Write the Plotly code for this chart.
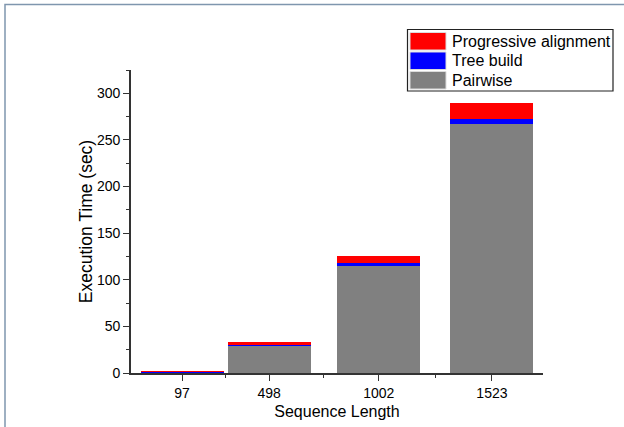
import plotly.graph_objects as go

# Execution time breakdown per sequence length (seconds)
seq_lengths = [97, 498, 1002, 1523]
pairwise = [0.3, 29.0, 115.3, 267.4]
tree_build = [0.8, 1.1, 2.2, 4.7]
progressive = [0.1, 3.0, 8.5, 17.5]

series_names = ["Pairwise", "Tree build", "Progressive alignment"]
series_values = [pairwise, tree_build, progressive]
series_colors = ["#808080", "#0000FF", "#FF0000"]

y_ticks = [0, 50, 100, 150, 200, 250, 300]
x_minor = [(a + b) / 2 for a, b in zip(seq_lengths[:-1], seq_lengths[1:])]

W, H = 624, 427
ML, MR, MT, MB = 131, 81, 70, 54
PW, PH = W - ML - MR, H - MT - MB
FONT = "Liberation Sans, Arial, sans-serif"


def px_x(px):
    return (px - ML) / PW


def px_y(py):
    return (H - MB - py) / PH


fig = go.Figure()
for name, vals, col in zip(series_names, series_values, series_colors):
    fig.add_trace(go.Bar(
        x=seq_lengths, y=vals, name=name, width=382,
        marker=dict(color=col, line=dict(width=0)),
        showlegend=False,
    ))

axis_common = dict(
    showline=True, linecolor="#333333", linewidth=1.6,
    ticks="outside", ticklen=6, tickwidth=1.4, tickcolor="#333333",
    showgrid=False, zeroline=False, automargin=False,
    tickfont=dict(family=FONT, size=14, color="black"),
)

fig.update_layout(
    width=W, height=H,
    margin=dict(l=ML, r=MR, t=MT, b=MB),
    paper_bgcolor="white", plot_bgcolor="white",
    barmode="stack", bargap=0,
    xaxis=dict(
        range=[-138, 1758], tickmode="array", tickvals=seq_lengths,
        ticktext=[str(v) for v in seq_lengths],
        minor=dict(tickmode="array", tickvals=x_minor, ticks="outside",
                   ticklen=3, tickwidth=1.2, tickcolor="#333333"),
        title=dict(text="Sequence Length", standoff=6,
                   font=dict(family=FONT, size=16, color="black")),
        **axis_common,
    ),
    yaxis=dict(
        range=[0, 325], tickmode="array", tickvals=y_ticks,
        minor=dict(tickmode="array", tickvals=[25, 75, 125, 175, 225, 275, 325],
                   ticks="outside", ticklen=3, tickwidth=1.2, tickcolor="#333333"),
        title=dict(text="Execution Time (sec)", standoff=0,
                   font=dict(family=FONT, size=17.5, color="black")),
        **axis_common,
    ),
)

# Window frame along the top and left edges
fig.add_shape(type="rect", xref="paper", yref="paper",
              x0=px_x(5), x1=px_x(660), y0=px_y(460), y1=px_y(4.5),
              line=dict(color="#7f96ae", width=1.5), fillcolor="rgba(0,0,0,0)",
              layer="above")

# Legend box with swatches, top entry is the top of the stack
fig.add_shape(type="rect", xref="paper", yref="paper",
              x0=px_x(407.5), x1=px_x(613), y0=px_y(91), y1=px_y(29.5),
              line=dict(color="#222222", width=1.2), fillcolor="white", layer="above")
row_tops = [32.5, 52, 71.5]
for i, (name, col) in enumerate(zip(series_names[::-1], series_colors[::-1])):
    top = row_tops[i]
    fig.add_shape(type="rect", xref="paper", yref="paper",
                  x0=px_x(410), x1=px_x(446), y0=px_y(top + 17.5), y1=px_y(top),
                  line=dict(color="#dcdcdc", width=1), fillcolor=col, layer="above")
    fig.add_annotation(xref="paper", yref="paper", x=px_x(450), y=px_y(top + 8.8),
                       xanchor="left", yanchor="middle", showarrow=False, text=name,
                       font=dict(family=FONT, size=16, color="black"))

fig.write_html("out.html")
